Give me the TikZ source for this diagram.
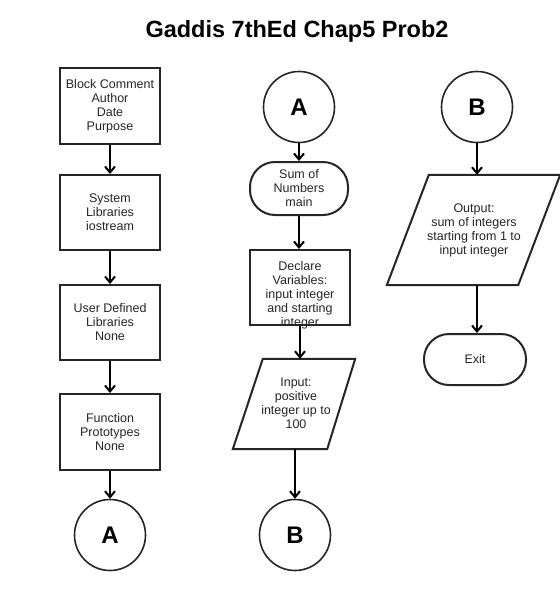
\documentclass[tikz,border=0pt]{standalone}
\usepackage{fontspec}
\setmainfont{Liberation Sans}
\usetikzlibrary{arrows.meta}
\begin{document}
\begin{tikzpicture}[x=1pt,y=-1pt,
  txt/.style={font=\fontsize{12.5}{14}\selectfont, text=black!85, align=center, inner sep=0pt},
  procbox/.style={txt, draw=black!85, line width=2pt, minimum width=100pt, minimum height=76pt},
  termbox/.style={txt, draw=black!85, line width=2pt, rounded corners=25pt},
  conn/.style={circle, draw=black!85, line width=1.6pt, minimum size=71pt, inner sep=0pt, font=\fontsize{24}{28}\bfseries\selectfont},
  ghost/.style={draw=none, inner sep=0pt},
  iobox/.style={draw=black!85, line width=2pt, line join=miter},
  flow/.style={draw=black, line width=2pt, -{Straight Barb[length=6pt,width=10pt]}}
]
\path[fill=white] (0,0) rectangle (560,590);
\useasboundingbox (0,0) rectangle (560,590);

% title
\node[font=\fontsize{23.5}{28}\bfseries\selectfont, inner sep=0pt] (title) at (297,31) {Gaddis 7thEd Chap5 Prob2};

% left column
\node[procbox] (b1) at (110,106) {Block Comment\\Author\\Date\\Purpose};
\node[procbox, minimum height=75pt] (b2) at (110,212.5) {System\\Libraries\\iostream};
\node[procbox, minimum height=75pt] (b3) at (110,322.5) {User Defined\\Libraries\\None};
\node[procbox] (b4) at (110,432) {Function\\Prototypes\\None};
\node[conn] (cA1) at (110,535) {A};
\draw[flow] (b1) -- (b2);
\draw[flow] (b2) -- (b3);
\draw[flow] (b3) -- (b4);
\draw[flow] (b4) -- (cA1);

% middle column
\node[conn] (cA2) at (299,107) {A};
\node[termbox, minimum width=98pt, minimum height=53pt] (t1) at (299,188.5) {Sum of\\Numbers\\main};
\node[procbox, minimum height=75pt] (d1) at (300,287.5) {};
\node[txt] (d1t) at (300,295) {Declare\\Variables:\\input integer\\and starting\\integer};
\node[ghost, minimum width=122pt, minimum height=90pt] (p1) at (294,404) {};
\draw[iobox] ([xshift=30pt]p1.north west) -- (p1.north east) -- ([xshift=-28pt]p1.south east) -- (p1.south west) -- cycle;
\node[txt] (p1t) at (296,403) {Input:\\positive\\integer up to\\100};
\node[conn] (cB1) at (295,535) {B};
\draw[flow] (cA2) -- (t1);
\draw[flow] (t1.south) -- (t1.south |- d1.north);
\draw[flow] (d1.south) -- (d1.south |- p1.north);
\draw[flow] (cB1.north |- p1.south) -- (cB1);

% right column
\node[conn] (cB2) at (477,107) {B};
\node[ghost, minimum width=173pt, minimum height=110pt] (p2) at (473.5,230) {};
\draw[iobox] ([xshift=42pt]p2.north west) -- (p2.north east) -- ([xshift=-42pt]p2.south east) -- (p2.south west) -- cycle;
\node[txt] (p2t) at (474,230) {Output:\\sum of integers\\starting from 1 to\\input integer};
\node[termbox, minimum width=102pt, minimum height=51pt] (ex) at (475,359.5) {Exit};
\draw[flow] (cB2.south) -- (cB2.south |- p2.north);
\draw[flow] (cB2.south |- p2.south) -- (cB2.south |- ex.north);
\end{tikzpicture}
\end{document}
